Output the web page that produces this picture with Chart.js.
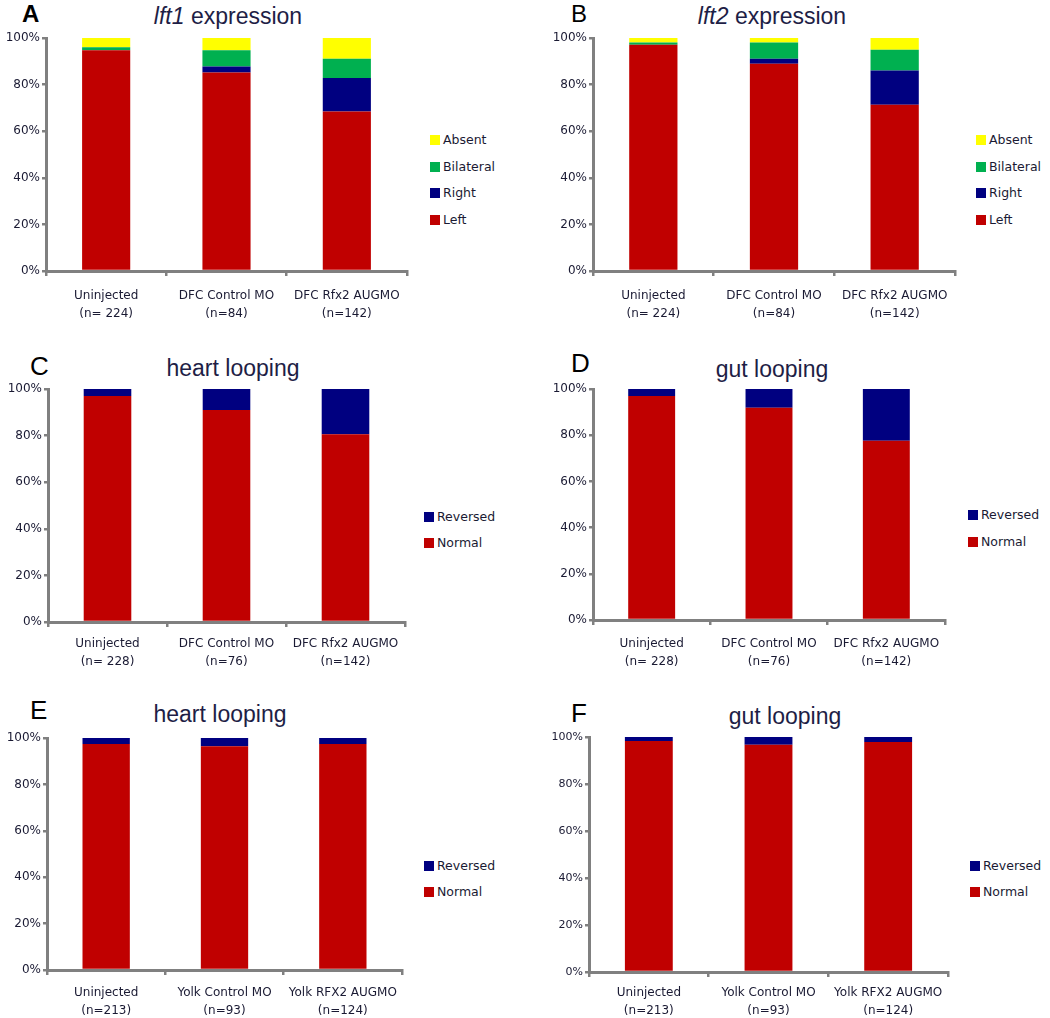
<!DOCTYPE html>
<html>
<head>
<meta charset="utf-8">
<script src="https://cdn.jsdelivr.net/npm/chart.js"></script>
<style>
  body { margin:0; background:#fff; width:1050px; height:1018px; position:relative; overflow:hidden;
         font-family:'Liberation Sans', Arial, sans-serif; color:#222; }
  .abs { position:absolute; }
  .letter { position:absolute; font-size:26px; line-height:1; color:#000; }
  .title { position:absolute; width:300px; text-align:center; font-size:23px; line-height:1; color:#1e1e46; white-space:nowrap; }
  .leg { position:absolute; font-family:'DejaVu Sans', sans-serif; font-size:12.5px; line-height:12px; height:12px;
         white-space:nowrap; color:#1a1a33; }
  .leg .box { display:inline-block; width:10px; height:10px; vertical-align:top; margin:1px 3px 0 0; }
</style>
</head>
<body>

<div class="letter" style="left:22px; top:2px; font-size:24px; font-weight:bold;">A</div>
<div class="letter" style="left:571px; top:2px; font-size:24px;">B</div>
<div class="letter" style="left:30px; top:353px;">C</div>
<div class="letter" style="left:571px; top:350px;">D</div>
<div class="letter" style="left:30px; top:697px;">E</div>
<div class="letter" style="left:571px; top:700px;">F</div>

<div class="title" style="left:78px; top:5px;"><i>lft1</i> expression</div>
<div class="title" style="left:622px; top:5px;"><i>lft2</i> expression</div>
<div class="title" style="left:83px; top:357px;">heart looping</div>
<div class="title" style="left:622px; top:358px;">gut looping</div>
<div class="title" style="left:70px; top:703px;">heart looping</div>
<div class="title" style="left:635px; top:705px;">gut looping</div>

<script>
// categories
const dfcLabels224 = [['Uninjected', '(n= 224)'], ['DFC Control MO', '(n=84)'], ['DFC Rfx2 AUGMO', '(n=142)']];
const dfcLabels228 = [['Uninjected', '(n= 228)'], ['DFC Control MO', '(n=76)'], ['DFC Rfx2 AUGMO', '(n=142)']];
const yolkLabels = [['Uninjected', '(n=213)'], ['Yolk Control MO', '(n=93)'], ['Yolk RFX2 AUGMO', '(n=124)']];

// A: lft1 expression (%)
const lft1Left      = [94.7, 85.2, 68.5];
const lft1Right     = [0.0, 2.6, 14.3];
const lft1Bilateral = [1.3, 6.9, 8.3];
const lft1Absent    = [4.0, 5.3, 8.9];

// B: lft2 expression (%)
const lft2Left      = [97.1, 89.0, 71.3];
const lft2Right     = [0.0, 2.1, 14.8];
const lft2Bilateral = [1.0, 7.0, 8.9];
const lft2Absent    = [1.9, 1.9, 5.0];

// C / D: DFC injections
const heartDfcNormal   = [97.0, 91.0, 80.6];
const heartDfcReversed = [3.0, 9.0, 19.4];
const gutDfcNormal     = [97.0, 91.9, 77.6];
const gutDfcReversed   = [3.0, 8.1, 22.4];

// E / F: yolk injections
const heartYolkNormal   = [97.4, 96.4, 97.4];
const heartYolkReversed = [2.6, 3.6, 2.6];
const gutYolkNormal     = [98.3, 96.7, 97.9];
const gutYolkReversed   = [1.7, 3.3, 2.1];

// y axis ticks
const yTickStep = 20;

const RED = '#C00000', NAVY = '#000080', GREEN = '#00B050', YELLOW = '#FFFF00';
const AXIS = '#808080';
const TEXT = '#1a1a33';
const FONT = "'DejaVu Sans', sans-serif";

function panel(o) {
  const [bx, by, bw, bh] = o.box;
  const [pl, pt, pr, pb] = o.plot;
  const wrap = document.createElement('div');
  wrap.className = 'abs';
  wrap.style.left = bx + 'px';
  wrap.style.top = by + 'px';
  wrap.style.width = bw + 'px';
  wrap.style.height = bh + 'px';
  const cv = document.createElement('canvas');
  wrap.appendChild(cv);
  document.body.appendChild(wrap);

  new Chart(cv, {
    type: 'bar',
    data: {
      labels: o.labels,
      datasets: o.series.map(s => ({
        label: s.label,
        data: s.data,
        backgroundColor: s.color,
        barPercentage: 0.4,
        categoryPercentage: 1
      }))
    },
    options: {
      responsive: true,
      maintainAspectRatio: false,
      animation: false,
      layout: { padding: { top: pt - by, right: bx + bw - pr, left: 0, bottom: 0 } },
      plugins: { legend: { display: false }, title: { display: false }, tooltip: { enabled: false } },
      scales: {
        x: {
          stacked: true,
          grid: { display: true, drawOnChartArea: false, drawTicks: true, tickLength: 5, offset: true, color: AXIS, lineWidth: 2.5 },
          border: { display: true, color: AXIS, width: 3 },
          ticks: { color: TEXT, padding: o.labelPad, maxRotation: 0, autoSkip: false,
                   font: { family: FONT, size: 12, lineHeight: 1.5 } },
          afterFit: s => { s.height = by + bh - pb; }
        },
        y: {
          stacked: true,
          min: 0,
          max: 100,
          grid: { display: true, drawOnChartArea: false, drawTicks: true, tickLength: 4, color: AXIS, lineWidth: 2.5 },
          border: { display: true, color: AXIS, width: 3 },
          ticks: { stepSize: yTickStep, color: TEXT, padding: 2, callback: v => v + '%',
                   font: { family: FONT, size: o.tickSize || 12 } },
          afterFit: s => { s.width = pl - bx; }
        }
      }
    }
  });

  // legend, top entry = last stacked series
  o.series.slice().reverse().forEach((s, i) => {
    const d = document.createElement('div');
    d.className = 'leg';
    d.style.left = o.legend[0] + 'px';
    d.style.top = (o.legend[1] + i * o.legend[2] - 6) + 'px';
    d.innerHTML = '<span class="box" style="background:' + s.color + '"></span>' + s.label;
    document.body.appendChild(d);
  });
}

panel({
  box: [0, 28, 420, 300], plot: [46, 38, 407, 271], labelPad: 11,
  labels: dfcLabels224, legend: [430, 140, 26.5],
  series: [
    { label: 'Left', data: lft1Left, color: RED },
    { label: 'Right', data: lft1Right, color: NAVY },
    { label: 'Bilateral', data: lft1Bilateral, color: GREEN },
    { label: 'Absent', data: lft1Absent, color: YELLOW }
  ]
});

panel({
  box: [540, 28, 430, 300], plot: [593, 38, 955, 271], labelPad: 11,
  labels: dfcLabels224, legend: [976, 140, 26.5],
  series: [
    { label: 'Left', data: lft2Left, color: RED },
    { label: 'Right', data: lft2Right, color: NAVY },
    { label: 'Bilateral', data: lft2Bilateral, color: GREEN },
    { label: 'Absent', data: lft2Absent, color: YELLOW }
  ]
});

panel({
  box: [0, 379, 420, 300], plot: [48, 389, 405, 622], labelPad: 8,
  labels: dfcLabels228, legend: [424, 517, 25.5],
  series: [
    { label: 'Normal', data: heartDfcNormal, color: RED },
    { label: 'Reversed', data: heartDfcReversed, color: NAVY }
  ]
});

panel({
  box: [540, 379, 420, 300], plot: [593, 389, 945, 620], labelPad: 10,
  labels: dfcLabels228, legend: [968, 515, 27],
  series: [
    { label: 'Normal', data: gutDfcNormal, color: RED },
    { label: 'Reversed', data: gutDfcReversed, color: NAVY }
  ]
});

panel({
  box: [0, 728, 420, 290], plot: [47, 738, 402, 970], labelPad: 9,
  labels: yolkLabels, legend: [424, 866, 26],
  series: [
    { label: 'Normal', data: heartYolkNormal, color: RED },
    { label: 'Reversed', data: heartYolkReversed, color: NAVY }
  ]
});

panel({
  box: [540, 727, 425, 291], plot: [589, 737, 948, 972], labelPad: 7, tickSize: 11,
  labels: yolkLabels, legend: [970, 866, 26],
  series: [
    { label: 'Normal', data: gutYolkNormal, color: RED },
    { label: 'Reversed', data: gutYolkReversed, color: NAVY }
  ]
});
</script>
</body>
</html>
